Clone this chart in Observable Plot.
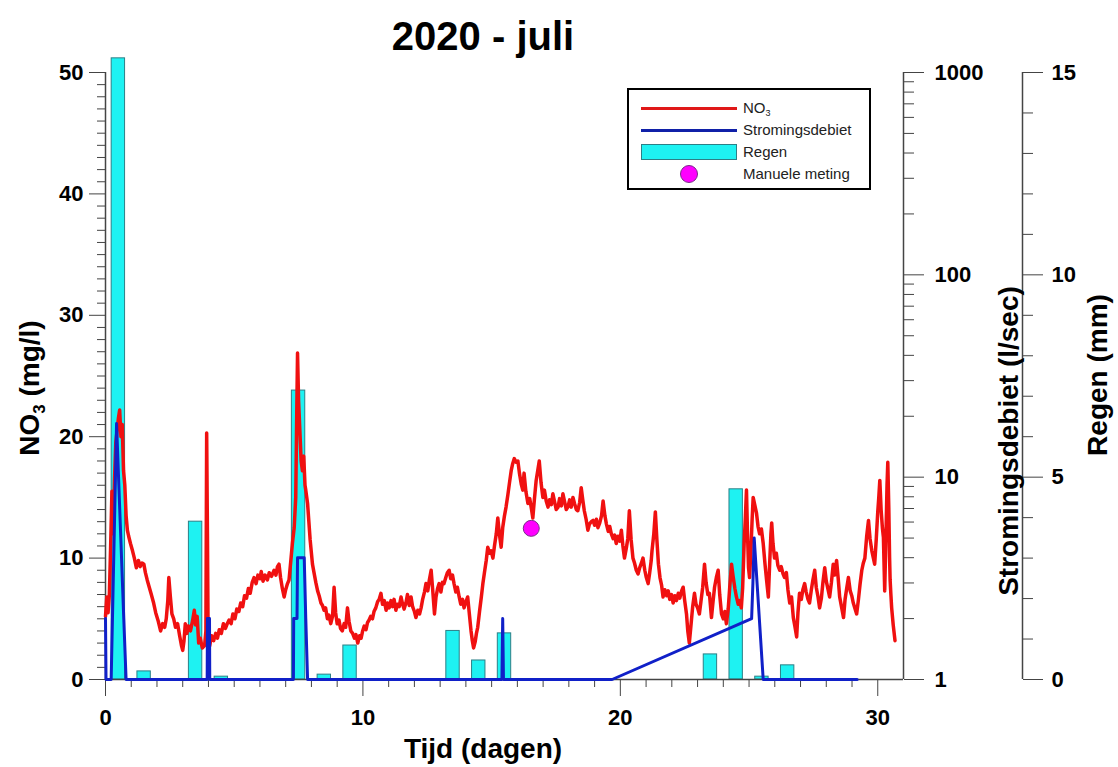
<!DOCTYPE html>
<html><head><meta charset="utf-8">
<script src="https://cdn.jsdelivr.net/npm/d3@7"></script>
<script src="https://cdn.jsdelivr.net/npm/@observablehq/plot@0.6"></script>
<style>
body{margin:0;background:#fff;font-family:Arial,"Liberation Sans",sans-serif;}
#wrap{position:relative;width:1118px;height:767px;overflow:hidden;background:#fff}
#wrap svg{position:absolute;left:0;top:0;overflow:visible;background:transparent !important}
.t{position:absolute;font-weight:bold;color:#000;white-space:nowrap;font-family:Arial,"Liberation Sans",sans-serif}
.rot{transform:translate(-50%,-50%) rotate(-90deg)}
.ctr{transform:translate(-50%,-50%)}
#legend{position:absolute;left:627px;top:88px;width:240px;height:98px;border:2.5px solid #000;background:#fff;font-size:15px}
#legend .row{position:absolute;left:0;width:240px;height:20px}
#legend .lbl{position:absolute;left:114px;top:0;line-height:20px;color:#222}
sub{font-size:60%;vertical-align:-0.35em;line-height:0}
</style></head><body><div id="wrap"></div>
<script>
// ---- data ----
const no3Series = [
[0.00,5.2],[0.05,6.8],[0.10,5.5],[0.15,7.0],[0.20,11.0],[0.25,15.5],[0.30,12.0],[0.35,16.5],[0.40,19.5],[0.45,20.5],
[0.50,21.5],[0.55,22.2],[0.60,20.0],[0.65,21.0],[0.70,17.2],[0.75,16.0],[0.80,13.5],[0.85,12.3],[0.90,11.8],[0.97,11.2],
[1.05,10.6],[1.12,10.0],[1.20,9.2],[1.28,9.8],[1.35,9.3],[1.42,9.6],[1.49,9.5],[1.55,8.8],[1.62,8.2],[1.70,7.6],
[1.78,7.0],[1.87,6.3],[1.95,5.5],[2.05,4.8],[2.14,4.0],[2.22,4.6],[2.30,4.3],[2.36,5.0],[2.42,6.5],[2.46,8.4],
[2.52,6.8],[2.58,5.4],[2.65,5.0],[2.72,4.3],[2.80,4.6],[2.88,3.6],[2.95,2.8],[3.00,2.4],[3.05,3.2],[3.10,4.6],
[3.16,3.8],[3.22,4.4],[3.30,4.0],[3.38,4.8],[3.45,5.7],[3.50,4.5],[3.56,5.2],[3.62,3.0],[3.68,3.4],[3.76,2.6],
[3.85,2.8],[3.90,4.0],[3.93,20.3],[3.96,12.0],[3.99,2.4],[4.05,2.8],[4.12,3.6],[4.20,3.2],[4.28,3.8],[4.35,3.4],
[4.42,4.1],[4.50,3.8],[4.58,4.6],[4.66,4.2],[4.73,4.6],[4.80,4.9],[4.88,4.6],[4.95,5.4],[5.03,5.0],[5.10,5.8],
[5.18,5.6],[5.25,6.3],[5.33,6.0],[5.40,6.9],[5.48,6.7],[5.55,7.5],[5.62,7.1],[5.70,8.0],[5.77,8.4],[5.85,7.9],
[5.92,8.6],[6.00,8.3],[6.05,8.9],[6.12,8.1],[6.20,8.6],[6.29,8.2],[6.36,8.8],[6.45,8.5],[6.55,9.0],[6.62,8.6],
[6.68,9.3],[6.74,9.5],[6.80,8.4],[6.87,7.5],[6.94,6.8],[7.00,7.4],[7.07,7.9],[7.13,8.2],[7.20,9.8],[7.26,11.2],
[7.33,12.5],[7.39,15.0],[7.43,22.0],[7.46,26.9],[7.50,23.0],[7.55,20.5],[7.60,18.0],[7.65,17.2],[7.70,18.4],[7.75,16.0],
[7.78,15.6],[7.85,14.5],[7.90,13.0],[7.95,11.5],[8.04,9.5],[8.10,8.8],[8.17,8.0],[8.24,7.3],[8.30,6.9],[8.37,6.3],
[8.43,6.1],[8.49,5.7],[8.55,5.9],[8.62,5.0],[8.68,5.3],[8.75,4.6],[8.82,5.2],[8.88,7.6],[8.94,5.5],[9.00,4.6],
[9.07,4.9],[9.13,4.2],[9.20,4.0],[9.27,4.6],[9.33,4.3],[9.40,5.9],[9.46,4.8],[9.53,4.0],[9.60,3.8],[9.67,3.4],
[9.73,3.7],[9.80,3.0],[9.87,3.6],[9.93,3.4],[9.99,4.0],[10.05,4.4],[10.12,4.1],[10.18,4.7],[10.24,4.9],[10.30,5.2],
[10.37,5.0],[10.43,5.6],[10.50,5.9],[10.57,6.4],[10.63,6.6],[10.70,7.1],[10.76,6.2],[10.83,6.5],[10.90,5.7],[10.96,6.3],
[11.02,5.9],[11.09,6.5],[11.15,6.0],[11.21,6.6],[11.28,5.7],[11.34,6.2],[11.41,6.0],[11.48,6.8],[11.54,6.2],[11.60,5.8],
[11.67,6.3],[11.73,7.0],[11.80,6.1],[11.87,6.8],[11.93,6.0],[12.00,5.6],[12.06,5.1],[12.13,5.7],[12.20,5.4],[12.26,5.9],
[12.32,6.6],[12.39,7.2],[12.45,7.9],[12.52,7.3],[12.58,8.2],[12.65,9.0],[12.71,7.4],[12.78,5.4],[12.84,6.8],[12.90,7.5],
[12.96,7.9],[13.03,7.2],[13.09,8.0],[13.15,7.9],[13.22,8.4],[13.28,8.8],[13.35,9.0],[13.41,8.3],[13.48,8.6],[13.54,7.9],
[13.61,7.2],[13.67,7.6],[13.74,6.8],[13.80,6.2],[13.87,6.6],[13.93,5.9],[14.00,6.4],[14.07,6.8],[14.13,5.5],[14.20,4.0],
[14.25,3.2],[14.30,2.6],[14.36,3.1],[14.41,3.8],[14.46,4.3],[14.53,5.6],[14.60,6.8],[14.66,7.9],[14.72,8.8],[14.79,9.8],
[14.85,10.9],[14.92,10.4],[14.98,10.6],[15.05,10.0],[15.11,11.0],[15.18,12.0],[15.24,13.3],[15.30,12.0],[15.37,10.9],[15.43,12.5],
[15.50,13.5],[15.56,14.2],[15.63,15.2],[15.70,16.3],[15.76,17.2],[15.82,17.8],[15.88,18.2],[15.95,17.9],[16.02,18.0],[16.08,17.0],
[16.15,16.1],[16.21,15.6],[16.26,17.0],[16.33,15.5],[16.41,14.5],[16.48,14.9],[16.55,14.0],[16.60,13.3],[16.66,14.8],[16.73,16.4],
[16.79,17.2],[16.85,18.0],[16.92,16.2],[16.99,15.0],[17.05,15.6],[17.12,14.7],[17.19,14.2],[17.25,14.8],[17.32,14.4],[17.38,15.3],
[17.45,14.6],[17.51,14.0],[17.58,14.2],[17.64,14.9],[17.71,14.3],[17.77,15.3],[17.84,14.6],[17.90,14.0],[17.96,14.2],[18.03,14.8],
[18.09,14.2],[18.16,15.0],[18.22,14.5],[18.29,14.0],[18.35,13.9],[18.42,14.6],[18.48,15.8],[18.54,14.8],[18.60,13.9],[18.67,13.2],
[18.74,12.3],[18.80,12.8],[18.87,13.0],[18.94,13.1],[19.00,12.7],[19.07,13.2],[19.13,12.5],[19.20,12.9],[19.27,13.5],[19.33,14.7],
[19.40,13.5],[19.46,12.8],[19.53,12.2],[19.59,12.6],[19.65,12.0],[19.72,11.6],[19.78,11.9],[19.84,11.2],[19.91,11.8],[19.98,11.4],
[20.04,12.3],[20.10,11.0],[20.16,10.0],[20.23,10.8],[20.29,11.6],[20.35,13.9],[20.42,11.5],[20.49,10.0],[20.55,9.6],[20.62,9.0],
[20.69,8.7],[20.75,9.2],[20.82,9.6],[20.88,10.0],[20.95,9.0],[21.01,8.4],[21.08,7.9],[21.14,8.8],[21.20,9.8],[21.23,10.6],
[21.30,12.0],[21.36,13.8],[21.42,11.5],[21.48,9.5],[21.54,8.4],[21.60,7.8],[21.66,6.8],[21.73,7.4],[21.80,6.9],[21.86,7.3],
[21.92,6.6],[21.99,7.0],[22.05,6.3],[22.12,6.9],[22.18,6.5],[22.25,7.1],[22.31,6.7],[22.38,7.3],[22.44,7.6],[22.50,6.5],
[22.57,5.4],[22.62,4.0],[22.68,3.0],[22.75,4.6],[22.81,6.0],[22.88,7.1],[22.94,6.2],[23.00,5.9],[23.07,5.4],[23.13,6.4],
[23.20,7.6],[23.27,9.5],[23.33,8.0],[23.40,7.0],[23.46,7.1],[23.54,5.1],[23.60,6.4],[23.66,7.6],[23.73,8.4],[23.80,9.0],
[23.86,7.0],[23.93,5.4],[24.00,5.0],[24.06,5.6],[24.12,4.6],[24.19,5.8],[24.25,7.6],[24.32,9.5],[24.38,8.5],[24.45,7.5],
[24.51,6.8],[24.58,6.2],[24.64,6.5],[24.70,5.9],[24.75,7.5],[24.81,11.2],[24.86,13.5],[24.90,15.6],[24.94,12.0],[24.98,9.2],
[25.02,8.4],[25.07,10.5],[25.12,13.2],[25.16,15.0],[25.22,14.4],[25.29,13.7],[25.35,12.6],[25.41,12.0],[25.48,12.4],[25.55,11.2],
[25.62,9.5],[25.68,8.2],[25.75,6.8],[25.80,9.5],[25.85,12.0],[25.88,12.9],[25.93,11.2],[25.99,10.0],[26.06,10.4],[26.12,9.4],
[26.19,9.0],[26.25,9.3],[26.32,8.7],[26.38,8.4],[26.45,8.8],[26.51,7.4],[26.58,6.3],[26.65,6.8],[26.72,5.1],[26.78,4.4],
[26.85,3.5],[26.90,5.5],[26.96,7.1],[27.03,6.6],[27.09,7.4],[27.16,7.9],[27.22,7.2],[27.29,6.6],[27.35,6.3],[27.42,7.4],
[27.48,8.2],[27.55,9.0],[27.61,7.6],[27.68,6.8],[27.74,5.9],[27.81,6.7],[27.87,8.0],[27.94,9.2],[28.00,8.1],[28.07,7.4],
[28.13,6.8],[28.20,8.0],[28.27,9.5],[28.33,8.6],[28.40,9.8],[28.46,8.4],[28.52,6.8],[28.60,5.9],[28.67,5.1],[28.73,6.6],
[28.80,7.6],[28.86,8.4],[28.93,7.3],[28.99,6.9],[29.05,6.3],[29.12,5.8],[29.18,5.4],[29.25,6.6],[29.31,7.8],[29.38,9.0],
[29.44,9.6],[29.50,10.0],[29.57,11.8],[29.64,13.1],[29.70,11.6],[29.77,10.6],[29.83,10.0],[29.88,9.5],[29.94,11.5],[30.00,13.8],
[30.04,15.0],[30.08,16.4],[30.13,14.0],[30.18,12.5],[30.22,11.7],[30.25,9.0],[30.27,7.3],[30.32,12.0],[30.36,16.0],[30.39,17.9],
[30.43,14.0],[30.46,10.0],[30.48,8.2],[30.51,7.0],[30.54,5.9],[30.60,4.5],[30.67,3.2]
];
const flowDays = [0,0.02,0.22,0.43,0.71,0.80,3.95,3.96,4.04,4.05,7.30,7.31,7.44,7.46,7.72,7.78,7.85,15.40,15.43,15.46,19.68,25.10,25.15,25.20,25.55,29.20];
const flowVals = [2,1,1,18.4,2,1,1,2,2,1,1,2,2,4,4,2,1,1,2,1,1,2,3,5,1,1];
const rainDays = [0.5,1.5,3.5,4.5,7.5,8.5,9.5,13.5,14.5,15.5,23.5,24.5,25.5,26.5];
const rainMm   = [15.35,0.2,3.9,0.07,7.14,0.12,0.84,1.2,0.47,1.14,0.62,4.7,0.07,0.35];
const manualDays = [16.54];
const manualVals = [12.45];
const xMajor = [0,10,20,30];
const no3Major = [0,10,20,30,40,50];
const flowMajor = [1,10,100,1000];
const rainMajor = [0,5,10,15];

// ---- tables ----
const no3 = no3Series.map(([d,v]) => ({day:d, val:v}));
const flow = flowDays.map((d,i) => ({day:d, q:flowVals[i]}));
const rain = rainDays.map((d,i) => ({day:d, mm:rainMm[i]}));
const manual = manualDays.map((d,i) => ({day:d, val:manualVals[i]}));

const W = 1118, H = 767;
const common = {width:W, height:H, marginLeft:105, marginRight:215, marginTop:72, marginBottom:88,
  style:{background:"transparent", fontFamily:"Arial, 'Liberation Sans', sans-serif", color:"#000", overflow:"visible"}};
const X = {domain:[0,31], axis:null, label:null};
const AX = "#444";
const tickFont = {fontSize:22, fontWeight:"bold", fill:"#000"};

const wrap = document.getElementById("wrap");

// layer 1: rain bars
wrap.appendChild(Plot.plot({...common, x:X, y:{domain:[0,15], axis:null, label:null},
  marks:[
    Plot.rect(rain, {x1:d=>d.day-0.26, x2:d=>d.day+0.26, y1:0, y2:"mm", fill:"#1ef2f2", stroke:"#2d7f86", strokeWidth:1})
  ]}));

// layer 2: NO3 + left / bottom axes
const minorX = d3.range(0,31).filter(v=>v%10!==0);
const minorY = d3.range(0,51).filter(v=>v%10!==0);
wrap.appendChild(Plot.plot({...common, x:X, y:{domain:[0,50], axis:null, label:null},
  marks:[
    Plot.ruleY([0], {stroke:AX, strokeWidth:1.5}),
    Plot.ruleX([0], {stroke:AX, strokeWidth:1.5}),
    Plot.axisX(minorX, {anchor:"bottom", tickSize:8, tickFormat:()=>"", stroke:AX}),
    Plot.axisX(xMajor, {anchor:"bottom", tickSize:17, tickPadding:13, tickFormat:d=>String(d), stroke:AX, ...tickFont}),
    Plot.axisY(minorY, {anchor:"left", tickSize:8, tickFormat:()=>"", stroke:AX}),
    Plot.axisY(no3Major, {anchor:"left", tickSize:16, tickPadding:6, tickFormat:d=>String(d), stroke:AX, ...tickFont}),
    Plot.line(no3, {x:"day", y:"val", stroke:"#f01010", strokeWidth:3.5, strokeLinejoin:"round"}),
    Plot.dot(manual, {x:"day", y:"val", r:8, fill:"#ff00ff", stroke:"#7a2a8a", strokeWidth:1})
  ]}));

// layer 3: flow (log) + right axis
const minorFlow = [];
[1,10,100].forEach(b => { for (let k=2;k<=9;k++) minorFlow.push(b*k); });
wrap.appendChild(Plot.plot({...common, x:X, y:{type:"log", domain:[1,1000], axis:null, label:null},
  marks:[
    Plot.ruleX([31], {stroke:AX, strokeWidth:1.5}),
    Plot.axisY(minorFlow, {anchor:"right", tickSize:10, tickFormat:()=>"", stroke:AX}),
    Plot.axisY(flowMajor, {anchor:"right", tickSize:20, tickPadding:11, tickFormat:d=>String(d), stroke:AX, ...tickFont}),
    Plot.line(flow, {x:"day", y:"q", stroke:"#1020c8", strokeWidth:3, strokeLinejoin:"round"})
  ]}));

// layer 4: rain axis (far right)
wrap.appendChild(Plot.plot({...common, marginRight:96, x:{domain:[0,1], axis:null, label:null}, y:{domain:[0,15], axis:null, label:null},
  marks:[
    Plot.ruleX([1], {stroke:AX, strokeWidth:1.5}),
    Plot.axisY(d3.range(0,16).filter(v=>v%5!==0), {anchor:"right", tickSize:10, tickFormat:()=>"", stroke:AX}),
    Plot.axisY(rainMajor, {anchor:"right", tickSize:20, tickPadding:9, tickFormat:d=>String(d), stroke:AX, ...tickFont})
  ]}));

// texts
function txt(html, x, y, size, cls){
  const d = document.createElement("div");
  d.className = "t " + cls; d.innerHTML = html;
  d.style.left = x+"px"; d.style.top = y+"px"; d.style.fontSize = size+"px";
  wrap.appendChild(d);
}
txt("2020 - juli", 483, 36, 40, "ctr");
txt("Tijd (dagen)", 483, 749, 28, "ctr");
txt("NO<sub>3</sub> (mg/l)", 30, 388, 28, "rot");
txt("Stromingsdebiet (l/sec)", 1009, 441, 28, "rot");
txt("Regen (mm)", 1098, 375, 28, "rot");

// legend
const leg = document.createElement("div"); leg.id = "legend";
const items = [
  {label:"NO<sub>3</sub>", kind:"line", color:"#e01818"},
  {label:"Stromingsdebiet", kind:"line", color:"#1020a8"},
  {label:"Regen", kind:"rect"},
  {label:"Manuele meting", kind:"dot"}
];
items.forEach((it,i) => {
  const r = document.createElement("div"); r.className = "row"; r.style.top = (8+i*22)+"px";
  let sym = "";
  if (it.kind==="line") sym = `<div style="position:absolute;left:12px;top:9px;width:96px;height:3px;background:${it.color}"></div>`;
  if (it.kind==="rect") sym = `<div style="position:absolute;left:12px;top:2px;width:94px;height:14px;background:#1ef2f2;border:1px solid #2d7f86"></div>`;
  if (it.kind==="dot") sym = `<div style="position:absolute;left:51px;top:1px;width:16px;height:16px;border-radius:50%;background:#ff00ff;border:1px solid #7a2a8a"></div>`;
  r.innerHTML = sym + `<div class="lbl">${it.label}</div>`;
  leg.appendChild(r);
});
wrap.appendChild(leg);
</script></body></html>
